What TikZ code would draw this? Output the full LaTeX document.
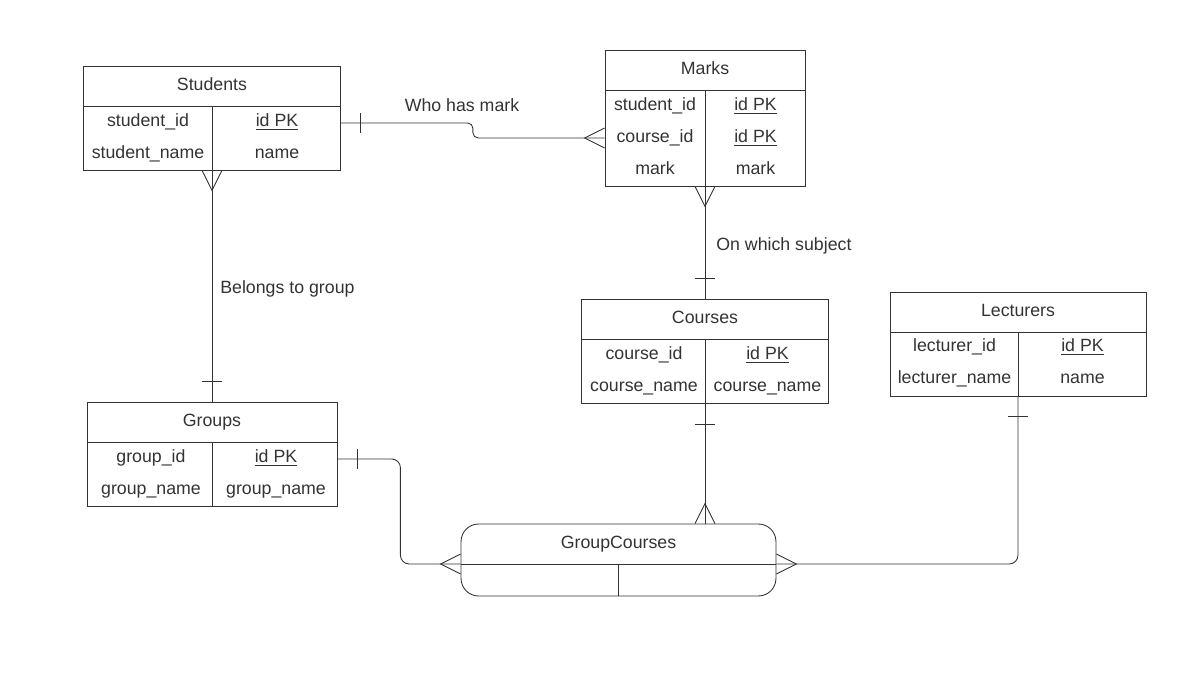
\documentclass[tikz,border=0pt]{standalone}
\usepackage{fontspec}
\setmainfont{Liberation Sans}
\usetikzlibrary{calc}
\definecolor{ink}{HTML}{333333}

\begin{document}
\begin{tikzpicture}[
    x=0.02cm, y=-0.02cm,
    font=\fontsize{10.1}{12}\selectfont,
    text=ink,
    tabletitle/.style={
        draw=ink,
        line width=0.5pt,
        inner sep=0pt,
        minimum height=0.8cm,
        text depth=2.3pt
    },
    tablebody/.style={
        draw=ink,
        line width=0.5pt,
        inner sep=0pt,
        minimum height=1.28cm
    },
    cell/.style={anchor=base, inner sep=0pt},
    relname/.style={anchor=base west, inner sep=0pt},
    conn/.style={draw=ink, line width=0.5pt}
]

\useasboundingbox (0,0) rectangle (1201,676);

% Students table
\node[tabletitle, minimum width=5.14cm] (students) at (212,86) {Students};
\node[tablebody, minimum width=5.14cm] (studentsbody) at (212,138) {};
\draw[conn] (studentsbody.north) -- (studentsbody.south);
\node[cell] (studentid) at (148,126.5) {student\_id};
\node[cell] (studentname) at (148,158.5) {student\_name};
\node[cell] (studentpk) at (277,126.5) {\underline{id PK}};
\node[cell] (studentnm) at (277,158.5) {name};

% Marks table
\node[tabletitle, minimum width=4cm] (marks) at (705,70) {Marks};
\node[tablebody, minimum width=4cm, minimum height=1.92cm] (marksbody) at (705,138) {};
\draw[conn] (marksbody.north) -- (marksbody.south);
\node[cell] (markstudent) at (655,110.5) {student\_id};
\node[cell] (markcourse) at (655,142.5) {course\_id};
\node[cell] (markmark) at (655,174.5) {mark};
\node[cell] (markpka) at (755.5,110.5) {\underline{id PK}};
\node[cell] (markpkb) at (755.5,142.5) {\underline{id PK}};
\node[cell] (markval) at (755.5,174.5) {mark};

% Courses table
\node[tabletitle, minimum width=4.94cm] (courses) at (705,319) {Courses};
\node[tablebody, minimum width=4.94cm] (coursesbody) at (705,371) {};
\draw[conn] (coursesbody.north) -- (coursesbody.south);
\node[cell] (courseid) at (644,359.5) {course\_id};
\node[cell] (coursename) at (644,391.5) {course\_name};
\node[cell] (coursepk) at (767.5,359.5) {\underline{id PK}};
\node[cell] (coursenm) at (767.5,391.5) {course\_name};

% Lecturers table
\node[tabletitle, minimum width=5.12cm] (lecturers) at (1018,312) {Lecturers};
\node[tablebody, minimum width=5.12cm] (lecturersbody) at (1018,364) {};
\draw[conn] (lecturersbody.north) -- (lecturersbody.south);
\node[cell] (lecturerid) at (954.5,351.5) {lecturer\_id};
\node[cell] (lecturername) at (954.5,383.5) {lecturer\_name};
\node[cell] (lecturerpk) at (1082.5,351.5) {\underline{id PK}};
\node[cell] (lecturernm) at (1082.5,383.5) {name};

% Groups table
\node[tabletitle, minimum width=5cm] (groups) at (212,422) {Groups};
\node[tablebody, minimum width=5cm] (groupsbody) at (212,474) {};
\draw[conn] (groupsbody.north) -- (groupsbody.south);
\node[cell] (groupid) at (151,462.5) {group\_id};
\node[cell] (groupname) at (151,494.5) {group\_name};
\node[cell] (grouppk) at (276,462.5) {\underline{id PK}};
\node[cell] (groupnm) at (276,494.5) {group\_name};

% GroupCourses
\node[draw=ink, line width=0.5pt, rounded corners=10pt, minimum width=6.3cm,
      minimum height=1.44cm, inner sep=0pt] (groupcourses) at (618.5,560) {};
\node[cell] (gctitle) at (618.5,548.5) {GroupCourses};
\draw[conn] ($(groupcourses.west)+(0,4)$) -- ($(groupcourses.east)+(0,4)$);
\draw[conn] ($(groupcourses.south)+(-0.5,0)$) -- ++(0,-32);

% Students -- Marks
\draw[conn, rounded corners=3pt] ($(studentsbody.east)+(0,-15)$) -- ++(132,0) -- ++(0,15) -- (marksbody.west);
\draw[conn] ($(studentsbody.east)+(20,-25)$) -- ++(0,20);
\draw[conn] ($(marksbody.west)+(0,-10)$) -- ++(-20,10) -- ++(20,10);
\node[anchor=base, inner sep=0pt] (whohas) at (462,111.5) {Who has mark};

% Students -- Groups
\draw[conn] (studentsbody.south) -- (groups.north);
\draw[conn] ($(studentsbody.south)+(-10,0)$) -- ++(10,20) -- ++(10,-20);
\draw[conn] ($(groups.north)+(-10,-20)$) -- ++(20,0);
\node[relname] (belongs) at (220,293.5) {Belongs to group};

% Marks -- Courses
\draw[conn] (marksbody.south) -- (courses.north);
\draw[conn] ($(marksbody.south)+(-10,0)$) -- ++(10,20) -- ++(10,-20);
\draw[conn] ($(courses.north)+(-10,-20)$) -- ++(20,0);
\node[relname] (subject) at (716,250.5) {On which subject};

% Groups -- GroupCourses
\draw[conn, rounded corners=5pt] ($(groupsbody.east)+(0,-15)$) -- ++(63,0) |- ($(groupcourses.west)+(0,4)$);
\draw[conn] ($(groupsbody.east)+(20,-25)$) -- ++(0,20);
\draw[conn] ($(groupcourses.west)+(0,-6)$) -- ++(-20,10) -- ++(20,10);

% Courses -- GroupCourses
\draw[conn] (coursesbody.south) -- (coursesbody.south |- groupcourses.north);
\draw[conn] ($(coursesbody.south)+(-10,21)$) -- ++(20,0);
\draw[conn] ($(coursesbody.south |- groupcourses.north)+(-10,0)$) -- ++(10,-20) -- ++(10,20);

% Lecturers -- GroupCourses
\draw[conn, rounded corners=5pt] (lecturersbody.south) |- ($(groupcourses.east)+(0,4)$);
\draw[conn] ($(lecturersbody.south)+(-10,20)$) -- ++(20,0);
\draw[conn] ($(groupcourses.east)+(0,-6)$) -- ++(20,10) -- ++(-20,10);

\end{tikzpicture}
\end{document}
